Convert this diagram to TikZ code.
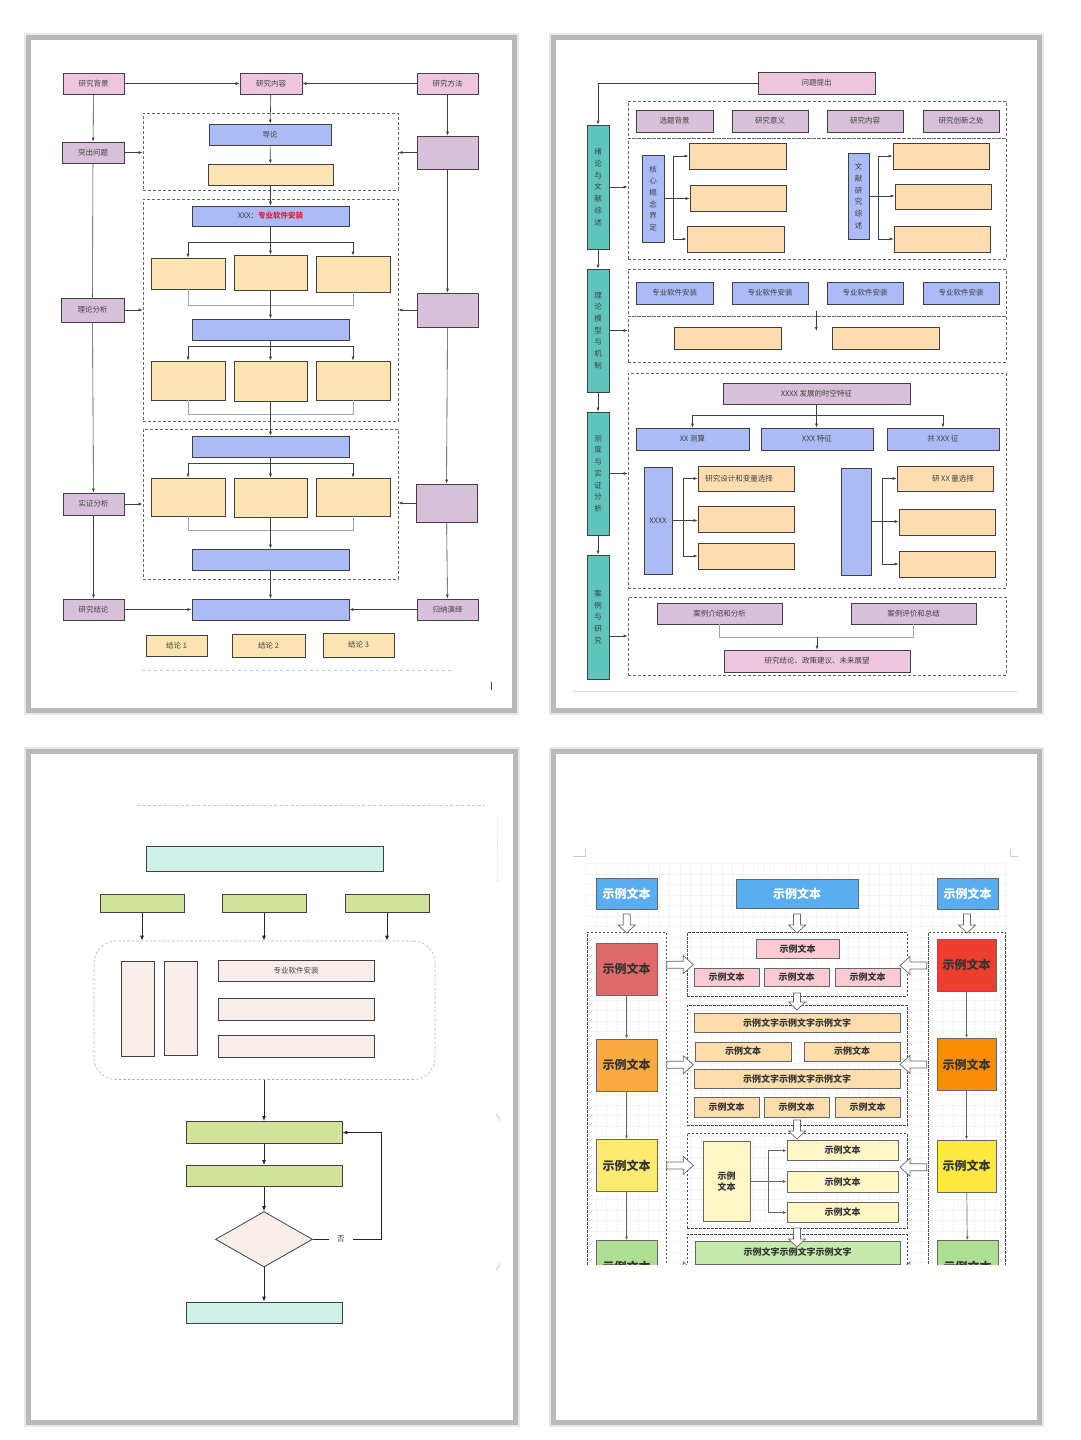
\documentclass[tikz,border=0pt]{standalone}
\usepackage{fontspec}
\setmainfont{Noto Sans CJK SC}
\usetikzlibrary{arrows.meta,shapes.geometric}
\definecolor{bd}{HTML}{404040}
\definecolor{txt}{HTML}{404040}
\definecolor{pinkA}{HTML}{EDC5DC}
\definecolor{purpA}{HTML}{D8C0DB}
\definecolor{blueA}{HTML}{AABBF5}
\definecolor{yellA}{HTML}{FCE4B2}
\definecolor{tealA}{HTML}{5EC4BC}
\definecolor{peachB}{HTML}{FDDDB0}
\definecolor{redT}{HTML}{E0203C}
\definecolor{tealC}{HTML}{CDF0E8}
\definecolor{greenC}{HTML}{D2E39C}
\definecolor{pinkC}{HTML}{F9EDEA}
\definecolor{blueD}{HTML}{5AAEF0}
\definecolor{redL}{HTML}{E06A6A}
\definecolor{oraL}{HTML}{F9AA42}
\definecolor{yelL}{HTML}{FCEB70}
\definecolor{greL}{HTML}{ADDE91}
\definecolor{redR}{HTML}{EE3E2E}
\definecolor{oraR}{HTML}{FB8D06}
\definecolor{yelR}{HTML}{FDE83E}
\definecolor{pinkD}{HTML}{FBCAD3}
\definecolor{peachD}{HTML}{FDDDAC}
\definecolor{lyelD}{HTML}{FFF6C6}
\definecolor{greD}{HTML}{C5EAAB}
\newcommand\bx[7]{\node[#1,minimum width={(#5-#3)*1pt},minimum height={(#6-#4)*1pt}] (#2) at ({(#3+#5)/2},{(#4+#6)/2}) {#7};}
\newcommand\pagefr[4]{\draw[line width=9pt,gray!18] (#1,#2) rectangle (#3,#4);
  \draw[line width=5pt,gray!55,fill=white] (#1,#2) rectangle (#3,#4);}
\newcommand\hdown[3]{\draw[hol] ({#1-3.5},#2) -- ({#1+3.5},#2) -- ({#1+3.5},{#3-8}) -- ({#1+8.5},{#3-8}) -- (#1,#3) -- ({#1-8.5},{#3-8}) -- ({#1-3.5},{#3-8}) -- cycle;}
\newcommand\hright[3]{\draw[hol] (#2,{#1-3.5}) -- ({#3-10},{#1-3.5}) -- ({#3-10},{#1-9}) -- (#3,#1) -- ({#3-10},{#1+9}) -- ({#3-10},{#1+3.5}) -- (#2,{#1+3.5}) -- cycle;}
\newcommand\hleft[3]{\draw[hol] (#2,{#1-3.5}) -- ({#3+10},{#1-3.5}) -- ({#3+10},{#1-9}) -- (#3,#1) -- ({#3+10},{#1+9}) -- ({#3+10},{#1+3.5}) -- (#2,{#1+3.5}) -- cycle;}
\tikzset{
  base/.style={draw=bd,line width=0.8pt,inner sep=0pt,align=center,text=txt,font=\fontsize{7.5}{11.7}\selectfont},
  spk/.style={base,fill=pinkA},
  spu/.style={base,fill=purpA},
  sbl/.style={base,fill=blueA},
  sye/.style={base,fill=yellA},
  ste/.style={base,fill=tealA},
  spe/.style={base,fill=peachB},
  dbox/.style={draw=bd!80,line width=0.8pt,dash pattern=on 3pt off 2pt,inner sep=0pt},
  ar/.style={draw=bd,line width=0.6pt,-{Latex[length=4pt,width=3pt]}},
  ln/.style={draw=gray!70,line width=0.6pt},
  stl/.style={base,fill=tealC},
  sgr/.style={base,fill=greenC},
  spc/.style={base,fill=pinkC},
  rdb/.style={draw=gray!60,line width=0.6pt,dash pattern=on 2.5pt off 2pt,rounded corners=22pt,inner sep=0pt},
  arb/.style={draw=black!85,line width=0.9pt,-{Latex[length=5pt,width=4pt]}},
  dia/.style={diamond,draw=bd,line width=0.8pt,fill=pinkC,inner sep=0pt,minimum width=97pt,minimum height=55.5pt},
  b4/.style={draw=black!60,line width=0.8pt,inner sep=0pt,align=center,text=black!80,font=\bfseries\fontsize{9}{11}\selectfont},
  stb/.style={b4,fill=blueD,text=white,font=\bfseries\fontsize{12}{14}\selectfont},
  scl/.style={b4,font=\bfseries\fontsize{12}{14}\selectfont},
  db4/.style={draw=black!70,line width=0.7pt,dash pattern=on 2.5pt off 1.5pt,inner sep=0pt},
  ar4/.style={draw=black!60,line width=0.7pt,-{Latex[length=3.5pt,width=3pt]}},
  hol/.style={draw=black!60,fill=white,line width=0.7pt,line join=miter},
}
\begin{document}
\begin{tikzpicture}[x=1pt,y=-1pt]
\useasboundingbox (0,0) rectangle (1080,1440);
\fill[white] (0,0) rectangle (1080,1440);
\pagefr{28.5}{37.5}{514.5}{710}
\pagefr{553.5}{37.5}{1039}{710}
\pagefr{28.5}{751}{515.5}{1422.5}
\pagefr{553.5}{751}{1039}{1422.5}

%================ PANEL 1 =================
\bx{spk}{bg}{63}{73}{124}{94}{研究背景}
\bx{spk}{nr}{240}{73}{302}{94}{研究内容}
\bx{spk}{ff}{417}{73}{478}{94}{研究方法}
\bx{spu}{tc}{62}{142}{124}{163}{突出问题}
\bx{spu}{ll}{61}{298}{124}{322}{理论分析}
\bx{spu}{sz}{63}{493}{124}{515}{实证分析}
\bx{spu}{jl}{63}{599}{124}{620}{研究结论}
\bx{spu}{p1}{417}{136}{478}{169}{}
\bx{spu}{p2}{417}{293}{478}{327}{}
\bx{spu}{p3}{416}{484}{477}{522}{}
\bx{spu}{gn}{417}{599}{478}{620}{归纳演绎}
\bx{dbox}{d1}{143}{113}{398}{190}{}
\bx{dbox}{d2}{143}{199}{398}{421}{}
\bx{dbox}{d3}{143}{429}{398}{579}{}
\bx{sbl}{dl}{209}{124}{331}{145}{导论}
\bx{sye}{y1}{208}{164}{333}{185}{}
\bx{sbl}{xb}{192}{206}{349}{226}{XXX：\textcolor{redT}{\bfseries 专业软件安装}}
\bx{sye}{r1a}{151}{258}{225}{289}{}
\bx{sye}{r1b}{234}{255}{307}{290}{}
\bx{sye}{r1c}{316}{256}{390}{292}{}
\bx{sbl}{b2}{192}{319}{349}{340}{}
\bx{sye}{r2a}{151}{361}{225}{400}{}
\bx{sye}{r2b}{234}{361}{307}{401}{}
\bx{sye}{r2c}{316}{361}{390}{400}{}
\bx{sbl}{b3}{192}{436}{349}{457}{}
\bx{sye}{r3a}{151}{478}{225}{516}{}
\bx{sye}{r3b}{234}{478}{307}{517}{}
\bx{sye}{r3c}{316}{478}{390}{516}{}
\bx{sbl}{b4}{192}{549}{349}{570}{}
\bx{sbl}{b5}{192}{599}{349}{620}{}
\bx{sye}{c1}{146}{635}{207}{656}{结论 1}
\bx{sye}{c2}{232}{634}{305}{657}{结论 2}
\bx{sye}{c3}{323}{633}{394}{657}{结论 3}
\draw[ar] (bg) -- (nr);
\draw[ar] (ff) -- (nr);
\draw[ar] (bg) -- (tc);
\draw[ln,draw=bd] (tc) -- (ll);
\draw[ar] (ll) -- (sz);
\draw[ar] (sz) -- (jl);
\draw[ar] (tc.east) -- (tc.east -| d1.west);
\draw[ar] (ll.east) -- (ll.east -| d2.west);
\draw[ar] (sz.east) -- (sz.east -| d3.west);
\draw[ar] (ff) -- (p1);
\draw[ar] (p1) -- (p2);
\draw[ar] (p2) -- (p3);
\draw[ar] (p3) -- (gn);
\draw[ar] (p1.west) -- (p1.west -| d1.east);
\draw[ar] (p2.west) -- (p2.west -| d2.east);
\draw[ar] (p3.west) -- (p3.west -| d3.east);
\draw[ar] (nr) -- (dl);
\draw[ar] (dl) -- (y1);
\draw[ar] (y1) -- (xb);
\draw[ar] (xb) -- (r1b);
\draw[ar] ([yshift=-15.7pt]xb.south) -| (r1a.north);
\draw[ar] ([yshift=-15.7pt]xb.south) -| (r1c.north);
\draw[ln] (r1a.south) -- (r1a.south |- 0,305.7) -| (r1c.south);
\draw[ar] (r1b) -- (b2);
\draw[ar] (b2) -- (r2b);
\draw[ar] ([yshift=-6.3pt]b2.south) -| (r2a.north);
\draw[ar] ([yshift=-6.3pt]b2.south) -| (r2c.north);
\draw[ln] (r2a.south) -- (r2a.south |- 0,414.7) -| (r2c.south);
\draw[ar] (r2b) -- (b3);
\draw[ar] (b3) -- (r3b);
\draw[ar] ([yshift=-6.3pt]b3.south) -| (r3a.north);
\draw[ar] ([yshift=-6.3pt]b3.south) -| (r3c.north);
\draw[ln] (r3a.south) -- (r3a.south |- 0,530.3) -| (r3c.south);
\draw[ar] (r3b) -- (b4);
\draw[ar] (b4) -- (b5);
\draw[ar] (jl) -- (b5);
\draw[ar] (gn) -- (b5);
\draw[gray!45,line width=0.6pt,dash pattern=on 3pt off 3pt] (141.7,670) -- (452.7,670);
\draw[black!70,line width=0.9pt] (491.7,682) -- (491.7,690);

%================ PANEL 2 =================
\bx{spk}{wt}{758}{72}{875}{94}{问题提出}
\bx{ste}{t1}{587}{125}{609}{249}{绪\\论\\与\\文\\献\\综\\述}
\bx{ste}{t2}{587}{269}{609}{392}{理\\论\\模\\型\\与\\机\\制}
\bx{ste}{t3}{587}{412}{609}{535}{测\\度\\与\\实\\证\\分\\析}
\bx{ste}{t4}{587}{555}{609}{679}{案\\例\\与\\研\\究}
\draw[ar] (wt.west) -| (t1.north);
\draw[ar] (t1) -- (t2);
\draw[ar] (t2) -- (t3);
\draw[ar] (t3) -- (t4);
\bx{dbox}{eA}{628}{101}{1006}{138}{}
\bx{dbox}{eB}{628}{138}{1006}{259}{}
\bx{dbox}{eC}{628}{269}{1006}{316}{}
\bx{dbox}{eD}{628}{316}{1006}{362}{}
\bx{dbox}{eE}{628}{373}{1006}{588}{}
\bx{dbox}{eF}{628}{597}{1006}{675}{}
\draw[ar] (t1.east) -- (t1.east -| eB.west);
\draw[ar] (t2.east) -- (t2.east -| eD.west);
\draw[ar] (t3.east) -- (t3.east -| eE.west);
\draw[ar] (t4.east |- eF.west) -- (eF.west);
\bx{spu}{a1}{636}{110}{713}{132}{选题背景}
\bx{spu}{a2}{732}{110}{808}{132}{研究意义}
\bx{spu}{a3}{827}{110}{903}{132}{研究内容}
\bx{spu}{a4}{923}{110}{999}{132}{研究创新之处}
\bx{sbl}{hx}{642}{155}{664}{242}{核\\心\\概\\念\\界\\定}
\bx{spe}{hy1}{689}{143}{786}{169}{}
\bx{spe}{hy2}{690}{185}{786}{211}{}
\bx{spe}{hy3}{687}{226}{784}{252}{}
\draw[ar] (hx.east) -- (hx.east -| hy2.west);
\draw[ar] (hx.east -| 673.7,0) |- (hy1.west);
\draw[ar] (hx.east -| 673.7,0) |- (hy3.west);
\bx{sbl}{wx}{848}{153}{869}{239}{文\\献\\研\\究\\综\\述}
\bx{spe}{wy1}{893}{143}{989}{169}{}
\bx{spe}{wy2}{895}{184}{991}{209}{}
\bx{spe}{wy3}{894}{226}{990}{252}{}
\draw[ar] (wx.east) -- (wx.east -| wy2.west);
\draw[ar] (wx.east -| 878.7,0) |- (wy1.west);
\draw[ar] (wx.east -| 878.7,0) |- (wy3.west);
\bx{sbl}{s1}{636}{282}{713}{304}{专业软件安装}
\bx{sbl}{s2}{732}{282}{808}{304}{专业软件安装}
\bx{sbl}{s3}{827}{282}{903}{304}{专业软件安装}
\bx{sbl}{s4}{923}{282}{999}{304}{专业软件安装}
\bx{spe}{d1y}{674}{327}{781}{349}{}
\bx{spe}{d2y}{832}{327}{939}{349}{}
\coordinate (mk1) at (816.3,310.7);
\coordinate (mk2) at (816.3,331);
\draw[ar] (mk1) -- (mk2);
\bx{spu}{sk}{723}{383}{910}{404}{XXXX 发展的时空特征}
\bx{sbl}{q1}{636}{428}{749}{450}{XX 测算}
\bx{sbl}{q2}{761}{428}{873}{450}{XXX 特征}
\bx{sbl}{q3}{887}{428}{999}{450}{共 XXX 征}
\draw[ar] (sk.south) -- (sk.south |- q2.north);
\draw[ar] ([yshift=-10.7pt]sk.south) -| (q1.north);
\draw[ar] ([yshift=-10.7pt]sk.south) -| (q3.north);
\bx{sbl}{xx}{644}{467}{672}{574}{XXXX}
\bx{spe}{e1}{698}{466}{794}{491}{\hspace*{-14pt}研究设计和变量选择}
\bx{spe}{e2}{698}{506}{794}{532}{}
\bx{spe}{e3}{698}{543}{794}{569}{}
\draw[ar] (xx.east) -- (xx.east -| e2.west);
\draw[ar] (xx.east -| 683.3,0) |- (e1.west);
\draw[ar] (xx.east -| 683.3,0) |- (e3.west);
\bx{sbl}{rb}{841}{468}{871}{575}{}
\bx{spe}{f1}{897}{466}{993}{491}{\hspace*{16pt}研 XX 量选择}
\bx{spe}{f2}{899}{509}{995}{535}{}
\bx{spe}{f3}{899}{551}{995}{577}{}
\draw[ar] (rb.east) -- (rb.east -| f2.west);
\draw[ar] (rb.east -| 882.3,0) |- (f1.west);
\draw[ar] (rb.east -| 882.3,0) |- (f3.west);
\bx{spu}{k1}{657}{603}{782}{624}{案例介绍和分析}
\bx{spu}{k2}{851}{603}{976}{624}{案例评价和总结}
\bx{spk}{jg}{724}{650}{910}{672}{研究结论、政策建议、未来展望}
\draw[ln] (k1.south) -- (k1.south |- 0,637.3) -| (k2.south);
\draw[ar] (jg.north |- 0,637.3) -- (jg.north);
\draw[gray!30,line width=0.6pt] (573,691.3) -- (1017,691.3);

%================ PANEL 3 =================
\draw[gray!45,line width=0.6pt,dash pattern=on 3pt off 2.5pt] (136.7,805) -- (485,805);
\draw[gray!30,line width=0.6pt,dash pattern=on 1pt off 1.5pt] (497.3,817) -- (497.3,880);
\bx{stl}{h3}{146}{846}{383}{871}{}
\bx{sgr}{g1}{100}{894}{184}{912.5}{}
\bx{sgr}{g2}{222}{894}{306}{912.5}{}
\bx{sgr}{g3}{345}{894}{429}{912.5}{}
\bx{rdb}{rr}{94}{941}{435}{1079.5}{}
\draw[arb] (g1.south) -- (g1.south |- rr.north);
\draw[arb] (g2.south) -- (g2.south |- rr.north);
\draw[arb] (g3.south) -- (g3.south |- rr.north);
\bx{spc}{v1}{121}{961.5}{154}{1056}{}
\bx{spc}{v2}{164}{961}{197}{1055.5}{}
\bx{spc}{w1}{218}{960}{374}{981}{专业软件安装}
\bx{spc}{w2}{218}{998.5}{374}{1020}{}
\bx{spc}{w3}{218}{1035.5}{374}{1057}{}
\bx{sgr}{k3}{186}{1121.5}{342}{1143.5}{}
\bx{sgr}{k4}{186}{1165.5}{342}{1186.5}{}
\node[dia] (dm) at (264,1239.3) {};
\bx{stl}{btm}{186}{1302}{342}{1323.5}{}
\draw[arb] (rr.south -| k3.north) -- (k3.north);
\draw[arb] (k3) -- (k4);
\draw[arb] (k4) -- (dm);
\draw[arb] (dm) -- (btm);
\node[inner sep=0pt,minimum width=23.7pt,text=txt,font=\fontsize{7.5}{9}\selectfont] (no) at (340.8,1239.3) {否};
\draw[draw=black!85,line width=0.9pt] (dm.east) -- (no.west);
\draw[arb] (no.east) -- ++(28.6,0) |- (k3.east);
\draw[gray!60,line width=0.6pt] (496,1114) -- (499,1117) -- (499,1121);
\draw[gray!60,line width=0.6pt] (499,1263) -- (499,1267) -- (496,1270);

%================ PANEL 4 =================
\draw[gray!40,line width=0.6pt] (572.7,856.2) -- (585.7,856.2) -- (585.7,849);
\draw[gray!40,line width=0.6pt] (1010.7,849) -- (1010.7,856.2) -- (1018.3,856.2);
\begin{scope}
\clip (585.7,863.6) rectangle (1006.7,1264.7);
\foreach \gx in {585.7,596.2,...,1007} {\draw[gray!9,line width=0.5pt] (\gx,863.6) -- (\gx,1264.7);}
\foreach \gy in {863.6,874.1,...,1265} {\draw[gray!9,line width=0.5pt] (585.7,\gy) -- (1006.7,\gy);}
\bx{stb}{u1}{596}{878}{657}{909.5}{示例文本}
\bx{stb}{u2}{736}{879}{858}{908.5}{示例文本}
\bx{stb}{u3}{937}{878}{998}{909.5}{示例文本}
\bx{db4}{lc}{587}{932}{666}{1300}{}
\bx{db4}{rc}{928}{932}{1005.5}{1300}{}
\bx{db4}{cd1}{687}{932.5}{907}{996}{}
\bx{db4}{cd2}{687}{1005}{907}{1125.5}{}
\bx{db4}{cd3}{687}{1133.3}{907}{1228.7}{}
\bx{db4}{cd4}{687}{1234.4}{907}{1300}{}
\bx{scl,fill=redL}{L1}{596}{943}{657}{995}{示例文本}
\bx{scl,fill=oraL}{L2}{596}{1039}{657}{1091}{示例文本}
\bx{scl,fill=yelL}{L3}{596}{1139.5}{657}{1191.5}{示例文本}
\bx{scl,fill=greL}{L4}{596}{1240.5}{657}{1292.5}{示例文本}
\bx{scl,fill=redR}{R1}{937}{939}{996}{991}{示例文本}
\bx{scl,fill=oraR}{R2}{937}{1038.5}{996}{1090.5}{示例文本}
\bx{scl,fill=yelR}{R3}{937}{1140}{996}{1192}{示例文本}
\bx{scl,fill=greL}{R4}{937}{1240.5}{998}{1292.5}{示例文本}
\draw[ar4] (L1) -- (L2);
\draw[ar4] (L2) -- (L3);
\draw[ar4] (L3) -- (L4);
\draw[ar4] (R1) -- (R2);
\draw[ar4] (R2) -- (R3);
\draw[ar4] (R3) -- (R4);
\bx{b4,fill=pinkD}{n0}{756}{939}{839}{958.5}{示例文本}
\bx{b4,fill=pinkD}{n1}{694}{968.5}{759}{986.5}{示例文本}
\bx{b4,fill=pinkD}{n2}{764}{968.5}{829}{986.5}{示例文本}
\bx{b4,fill=pinkD}{n3}{835}{968.5}{900}{986.5}{示例文本}
\bx{b4,fill=peachD}{o0}{694}{1013}{900}{1032.5}{示例文字示例文字示例文字}
\bx{b4,fill=peachD}{o1}{695}{1042}{791}{1061}{示例文本}
\bx{b4,fill=peachD}{o2}{804}{1042}{900}{1061}{示例文本}
\bx{b4,fill=peachD}{o3}{694}{1069}{900}{1088.5}{示例文字示例文字示例文字}
\bx{b4,fill=peachD}{o4}{694}{1097.5}{759}{1117.5}{示例文本}
\bx{b4,fill=peachD}{o5}{764}{1097.5}{829}{1117.5}{示例文本}
\bx{b4,fill=peachD}{o6}{835}{1097.5}{900}{1117.5}{示例文本}
\bx{b4,fill=lyelD}{z0}{703}{1141.5}{750}{1221.5}{示例\\文本}
\bx{b4,fill=lyelD}{z1}{787}{1140.5}{898}{1160.5}{示例文本}
\bx{b4,fill=lyelD}{z2}{787}{1171.5}{898}{1192}{示例文本}
\bx{b4,fill=lyelD}{z3}{787}{1202.5}{898}{1222.5}{示例文本}
\draw[ar4] (z0.east) -- (z0.east -| z2.west);
\draw[ar4] (z0.east -| 768.3,0) |- (z1.west);
\draw[ar4] (z0.east -| 768.3,0) |- (z3.west);
\bx{b4,fill=greD}{gg}{695}{1241}{900}{1264}{示例文字示例文字示例文字}
\hdown{626.7}{914}{933}
\hdown{797}{914}{933}
\hdown{967}{914}{933}
\hdown{797}{993}{1010}
\hdown{797}{1120}{1139}
\hdown{797}{1228}{1247}
\hright{964.7}{666.7}{693.3}
\hright{1064.8}{666.7}{693.3}
\hright{1165.4}{666.7}{693.3}
\hright{1271}{666.7}{693.3}
\hleft{965.5}{926.7}{900}
\hleft{1064.4}{926.7}{900}
\hleft{1167.2}{926.7}{900}
\hleft{1271}{926.7}{900}
\end{scope}
\end{tikzpicture}
\end{document}
